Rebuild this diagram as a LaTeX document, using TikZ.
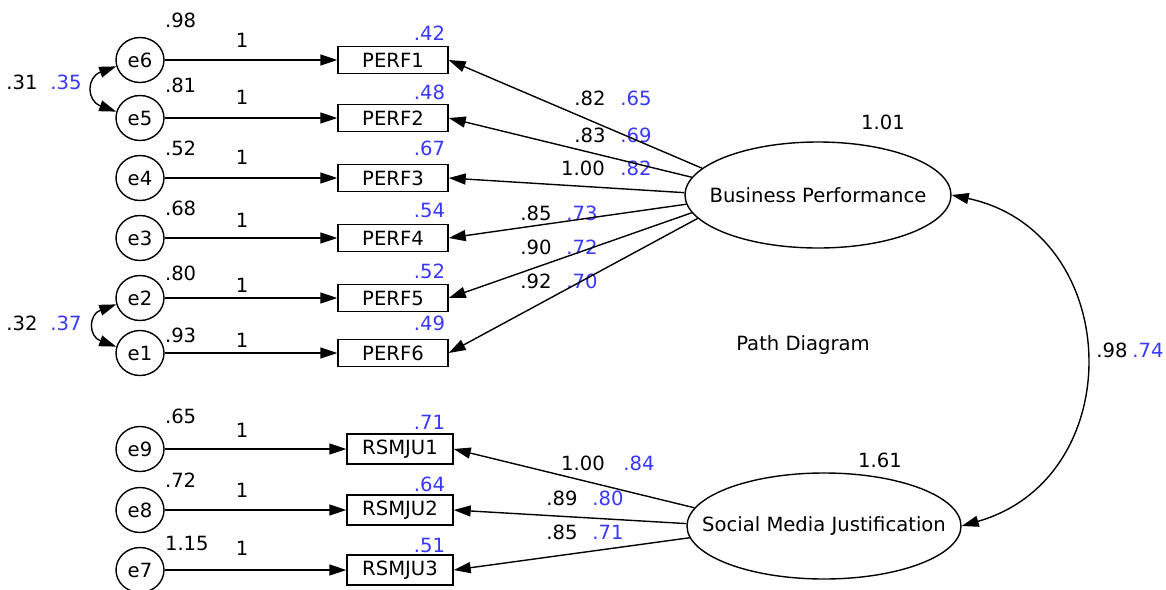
\documentclass[tikz,border=0pt]{standalone}
\usepackage{fontspec}
\setmainfont{DejaVu Sans}
\usetikzlibrary{arrows.meta,shapes.geometric}
\definecolor{stdblue}{RGB}{55,55,255}
\begin{document}
\begin{tikzpicture}[x=1pt,y=1pt,
    font=\fontsize{19.6}{21}\selectfont,
    line width=1.4pt,
    err/.style={draw,ellipse,inner sep=0pt,minimum width=48pt,minimum height=45pt},
    obs/.style={draw,rectangle,inner sep=0pt,minimum width=110pt,minimum height=27pt},
    obsr/.style={obs,minimum width=106pt,minimum height=30pt},
    lat/.style={draw,ellipse,inner xsep=-45pt,inner ysep=-5pt},
    arr/.style={-{Triangle[length=17pt,width=11pt]}},
    cov/.style={{Triangle[length=17pt,width=11pt]}-{Triangle[length=17pt,width=11pt]}},
    std/.style={text=stdblue}]
      \useasboundingbox (0,0) rectangle (1166,-589);
      \draw
        (140,-60) node[err] (e6){e6}
        (140,-118) node[err] (e5){e5}
        (140,-178) node[err] (e4){e4}
        (140,-238) node[err] (e3){e3}
        (140,-298) node[err] (e2){e2}
        (140,-353) node[err] (e1){e1}
        (140,-449) node[err] (e9){e9}
        (140,-510) node[err] (e8){e8}
        (140,-570) node[err] (e7){e7};
      \draw
        (393,-60) node[obs] (p1){PERF1}
        (393,-118) node[obs] (p2){PERF2}
        (393,-178) node[obs] (p3){PERF3}
        (393,-238) node[obs] (p4){PERF4}
        (393,-298) node[obs] (p5){PERF5}
        (393,-353) node[obs] (p6){PERF6}
        (400,-449) node[obsr] (r1){RSMJU1}
        (400,-510) node[obsr] (r2){RSMJU2}
        (400,-570) node[obsr] (r3){RSMJU3};
      \draw
        (818,-195) node[lat,minimum width=266pt,minimum height=106pt] (bp){Business Performance}
        (824,-526) node[lat,minimum width=274pt,minimum height=106pt] (smj){Social Media Justification}
        (803,-345) node (title){Path Diagram};
      \draw
        (161,-20) node[anchor=west] (v6){.98}
        (161,-85) node[anchor=west] (v5){.81}
        (161,-148) node[anchor=west] (v4){.52}
        (161,-208) node[anchor=west] (v3){.68}
        (161,-273) node[anchor=west] (v2){.80}
        (161,-335) node[anchor=west] (v1){.93}
        (161,-416) node[anchor=west] (v9){.65}
        (161,-480) node[anchor=west] (v8){.72}
        (161,-543) node[anchor=west] (v7){1.15}
        (883,-122) node (vbp){1.01}
        (880,-460) node (vsmj){1.61};
      \draw
        (242,-40) node (f6){1}
        (242,-97) node (f5){1}
        (242,-157) node (f4){1}
        (242,-220) node (f3){1}
        (242,-285) node (f2){1}
        (242,-340) node (f1){1}
        (242,-430) node (f9){1}
        (242,-490) node (f8){1}
        (242,-548) node (f7){1};
      \draw[std]
        (449,-33) node[anchor=east] (q1){.42}
        (449,-92) node[anchor=east] (q2){.48}
        (449,-148) node[anchor=east] (q3){.67}
        (449,-210) node[anchor=east] (q4){.54}
        (449,-271) node[anchor=east] (q5){.52}
        (449,-323) node[anchor=east] (q6){.49}
        (449,-422) node[anchor=east] (qr1){.71}
        (449,-484) node[anchor=east] (qr2){.64}
        (449,-545) node[anchor=east] (qr3){.51};
      \draw
        (590,-98) node (l1){.82}
        (590,-135) node (l2){.83}
        (583,-168) node (l3){1.00}
        (536,-213) node (l4){.85}
        (536,-247) node (l5){.90}
        (536,-281) node (l6){.92}
        (583,-463) node (lr1){1.00}
        (562,-498) node (lr2){.89}
        (562,-532) node (lr3){.85}
        (22,-82) node (c65){.31}
        (22,-323) node (c21){.32}
        (1112,-350) node (cbs){.98};
      \draw[std]
        (636,-98) node (s1){.65}
        (636,-135) node (s2){.69}
        (636,-168) node (s3){.82}
        (582,-213) node (s4){.73}
        (582,-247) node (s5){.72}
        (582,-281) node (s6){.70}
        (639,-463) node (sr1){.84}
        (608,-498) node (sr2){.80}
        (608,-532) node (sr3){.71}
        (66,-82) node (k65){.35}
        (66,-323) node (k21){.37}
        (1148,-350) node (kbs){.74};
      \begin{scope}[arr]
        \draw (e6) to (p1);
        \draw (e5) to (p2);
        \draw (e4) to (p3);
        \draw (e3) to (p4);
        \draw (e2) to (p5);
        \draw (e1) to (p6);
        \draw (e9) to (r1);
        \draw (e8) to (r2);
        \draw (e7) to (r3);
        \draw (bp.167) to (p1.east);
        \draw (bp.172) to (p2.east);
        \draw (bp.179) to (p3.east);
        \draw (bp.184) to (p4.east);
        \draw (bp.188) to (p5.east);
        \draw (bp.191) to (p6.east);
        \draw (smj.172) to (r1.east);
        \draw (smj.179) to (r2.east);
        \draw (smj.185) to (r3.east);
      \end{scope}
      \begin{scope}[cov]
        \draw (e6.195) to[out=200,in=160,looseness=1.8] (e5.165);
        \draw (e2.195) to[out=200,in=160,looseness=1.8] (e1.165);
        \draw (bp.east) to[out=-12,in=16,looseness=1.36] (smj.east);
      \end{scope}
    \end{tikzpicture}
\end{document}
